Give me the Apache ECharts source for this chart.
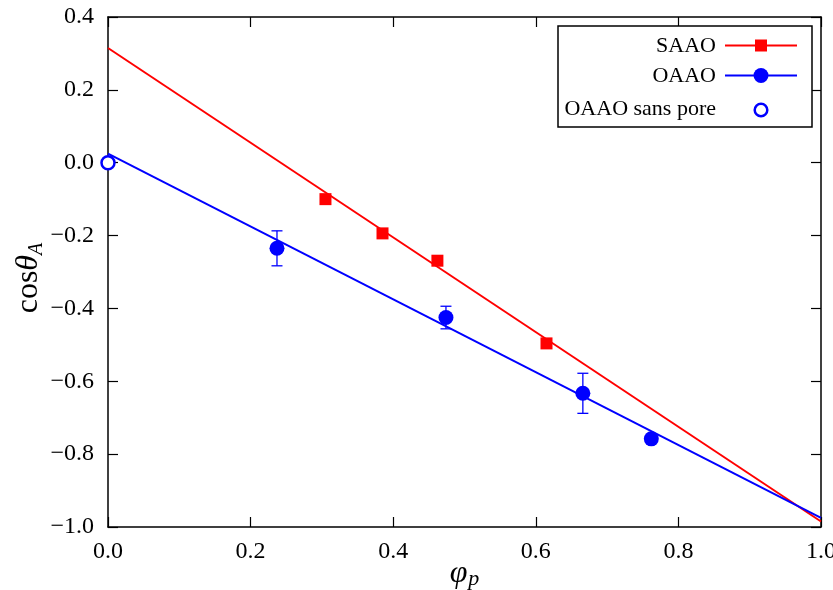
<!DOCTYPE html>
<html>
<head>
<meta charset="utf-8">
<script src="https://cdn.jsdelivr.net/npm/echarts@6/dist/echarts.min.js"></script>
<style>html,body{margin:0;padding:0;background:#fff;}#c{width:833px;height:590px;}</style>
</head>
<body>
<div id="c"></div>
<script>
// ---- data ----
const saaoX = [0.305, 0.385, 0.462, 0.615];
const saaoY = [-0.100, -0.194, -0.269, -0.496];
const oaaoX = [0.237, 0.474, 0.666, 0.762];
const oaaoY = [-0.235, -0.425, -0.633, -0.758];
const oaaoErr = [0.048, 0.031, 0.055, 0];
const poreFreeX = [0.0];
const poreFreeY = [0.0];
const saaoFitX = [0, 1];
const saaoFitY = [0.315, -0.985];
const oaaoFitX = [0, 1];
const oaaoFitY = [0.025, -0.975];
const xTicks = [0, 0.2, 0.4, 0.6, 0.8, 1.0];
const yTicks = [-1.0, -0.8, -0.6, -0.4, -0.2, 0.0, 0.2, 0.4];
const legendNames = ['SAAO', 'OAAO', 'OAAO sans pore'];

const FONT = '"Liberation Serif", "DejaVu Serif", serif';
const RED = '#ff0000', BLUE = '#0000ff';
const fmt = v => (v < -1e-9 ? '\u2212' + (-v).toFixed(1) : Math.abs(v).toFixed(1));
const zip = (a, b) => a.map((v, i) => [v, b[i]]);

const chart = echarts.init(document.getElementById('c'));
const axisCommon = () => ({
  type: 'value',
  axisLine: { show: true, onZero: false, lineStyle: { color: '#000', width: 1.5 } },
  axisTick: { show: true, inside: true, length: 10, lineStyle: { color: '#000', width: 1.2 } },
  splitLine: { show: false },
  axisLabel: { show: false }
});
chart.setOption({
  animation: false,
  grid: { left: 108, right: 12, top: 17, bottom: 63, containLabel: false, outerBoundsMode: 'none' },
  xAxis: [
    Object.assign(axisCommon(), {
      min: xTicks[0], max: xTicks[xTicks.length - 1], interval: 0.2, position: 'bottom',
      axisLabel: { show: true, formatter: fmt, color: '#000', fontFamily: FONT, fontSize: 24, margin: 13 },
      name: '{i|\u03c6}{s|p}', nameLocation: 'middle', nameGap: 31, nameMoveOverlap: false,
      nameTextStyle: { rich: {
        i: { fontFamily: FONT, fontStyle: 'italic', fontSize: 32, color: '#000', verticalAlign: 'top' },
        s: { fontFamily: FONT, fontStyle: 'italic', fontSize: 22, color: '#000', verticalAlign: 'top', padding: [10, 0, 0, 1] }
      } }
    }),
    Object.assign(axisCommon(), { min: 0, max: 1, interval: 0.2, position: 'top' })
  ],
  yAxis: [
    Object.assign(axisCommon(), {
      min: yTicks[0], max: yTicks[yTicks.length - 1], interval: 0.2, position: 'left',
      axisLabel: { show: true, formatter: fmt, color: '#000', fontFamily: FONT, fontSize: 24, margin: 14 },
      name: '{n|cos}{i|\u03b8}{s|A}', nameLocation: 'middle', nameGap: 61, nameRotate: 90, nameMoveOverlap: false,
      nameTextStyle: { padding: [0, 12, 0, 0], rich: {
        n: { fontFamily: FONT, fontSize: 32, color: '#000', verticalAlign: 'top' },
        i: { fontFamily: FONT, fontStyle: 'italic', fontSize: 32, color: '#000', verticalAlign: 'top' },
        s: { fontFamily: FONT, fontStyle: 'italic', fontSize: 20, color: '#000', verticalAlign: 'top', padding: [14, 0, 0, 0] }
      } }
    }),
    Object.assign(axisCommon(), { min: -1.0, max: 0.4, interval: 0.2, position: 'right' })
  ],
  series: [
    { type: 'line', data: zip(saaoFitX, saaoFitY), symbol: 'none', lineStyle: { color: RED, width: 2 }, z: 2 },
    { type: 'line', data: zip(oaaoFitX, oaaoFitY), symbol: 'none', lineStyle: { color: BLUE, width: 2 }, z: 2 },
    {
      type: 'custom', z: 3,
      data: oaaoX.map((x, i) => [x, oaaoY[i] - oaaoErr[i], oaaoY[i] + oaaoErr[i]]).filter((d, i) => oaaoErr[i] > 0),
      renderItem: (params, api) => {
        const x = api.value(0);
        const lo = api.coord([x, api.value(1)]);
        const hi = api.coord([x, api.value(2)]);
        const w = 5.5;
        const st = { stroke: BLUE, lineWidth: 1.3 };
        return { type: 'group', children: [
          { type: 'line', shape: { x1: lo[0], y1: lo[1], x2: hi[0], y2: hi[1] }, style: st },
          { type: 'line', shape: { x1: lo[0] - w, y1: lo[1], x2: lo[0] + w, y2: lo[1] }, style: st },
          { type: 'line', shape: { x1: hi[0] - w, y1: hi[1], x2: hi[0] + w, y2: hi[1] }, style: st }
        ] };
      }
    },
    { name: legendNames[0], type: 'scatter', data: zip(saaoX, saaoY), symbol: 'rect', symbolSize: 12, itemStyle: { color: RED, opacity: 1 }, z: 4 },
    { name: legendNames[1], type: 'scatter', data: zip(oaaoX, oaaoY), symbol: 'circle', symbolSize: 15, itemStyle: { color: BLUE, opacity: 1 }, z: 4 },
    { name: legendNames[2], type: 'scatter', data: zip(poreFreeX, poreFreeY), symbol: 'circle', symbolSize: 13, clip: false,
      itemStyle: { color: '#fff', borderColor: BLUE, borderWidth: 2.5, opacity: 1 }, z: 5 }
  ],
  graphic: [
    { type: 'rect', shape: { x: 558, y: 26, width: 254, height: 101 }, style: { fill: '#fff', stroke: '#000', lineWidth: 1.5 }, z: 10 },
    { type: 'text', x: 716, y: 46, style: { text: legendNames[0], textAlign: 'right', textVerticalAlign: 'middle', font: '22px ' + FONT, fill: '#000' }, z: 11 },
    { type: 'text', x: 716, y: 76, style: { text: legendNames[1], textAlign: 'right', textVerticalAlign: 'middle', font: '22px ' + FONT, fill: '#000' }, z: 11 },
    { type: 'text', x: 716, y: 109, style: { text: legendNames[2], textAlign: 'right', textVerticalAlign: 'middle', font: '22px ' + FONT, fill: '#000' }, z: 11 },
    { type: 'line', shape: { x1: 725, y1: 45.5, x2: 797, y2: 45.5 }, style: { stroke: RED, lineWidth: 2 }, z: 11 },
    { type: 'rect', shape: { x: 755, y: 39.5, width: 12, height: 12 }, style: { fill: RED }, z: 12 },
    { type: 'line', shape: { x1: 725, y1: 75.5, x2: 797, y2: 75.5 }, style: { stroke: BLUE, lineWidth: 2 }, z: 11 },
    { type: 'circle', shape: { cx: 761, cy: 75.5, r: 7.5 }, style: { fill: BLUE }, z: 12 },
    { type: 'circle', shape: { cx: 761, cy: 110, r: 6.3 }, style: { fill: '#fff', stroke: BLUE, lineWidth: 2.5 }, z: 12 }
  ]
});
</script>
</body>
</html>
